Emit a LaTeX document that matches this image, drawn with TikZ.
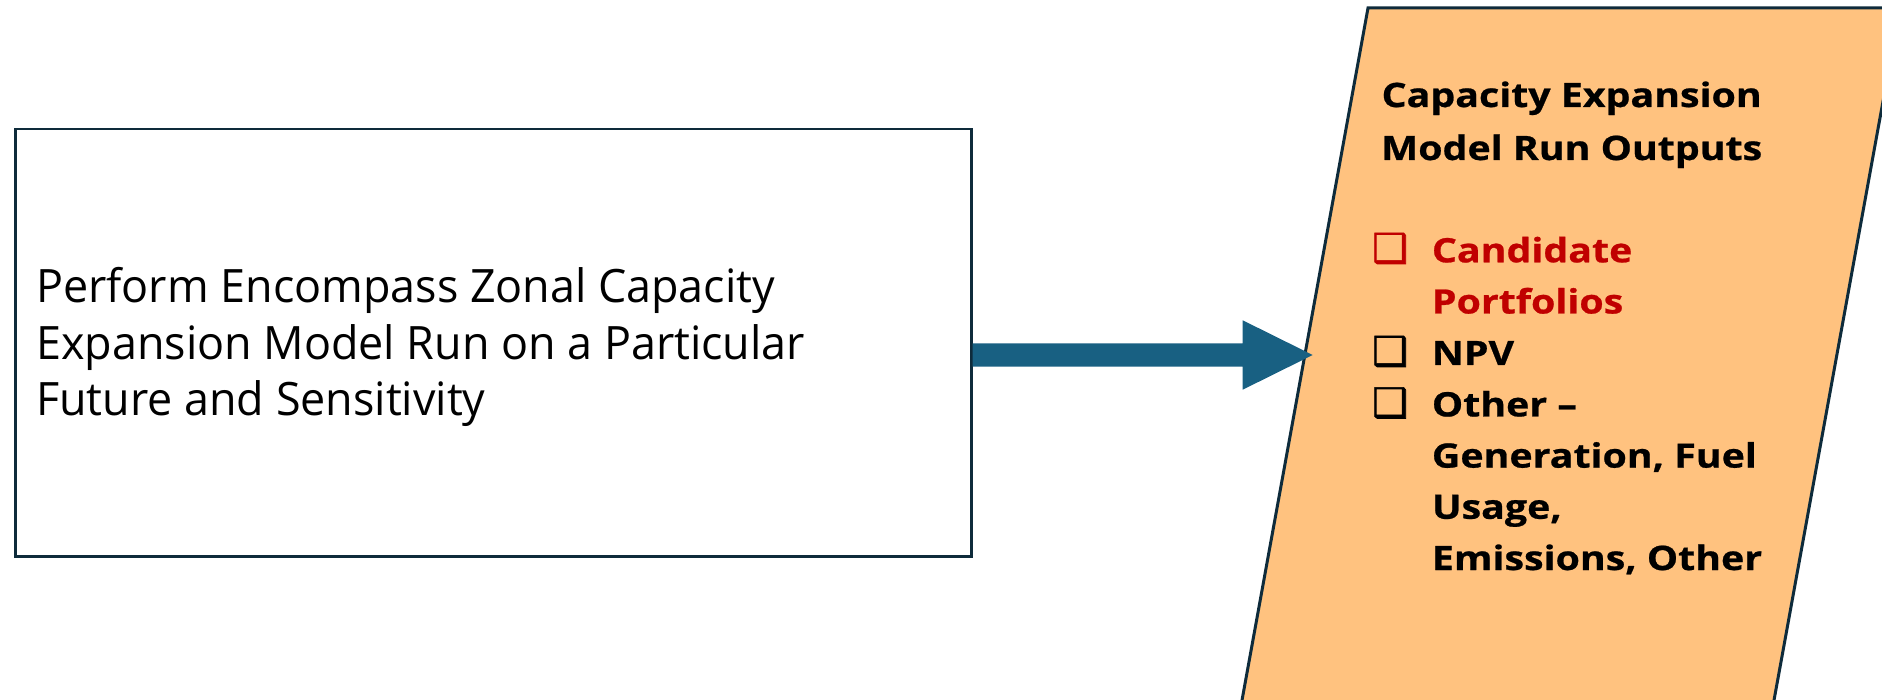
\documentclass[tikz,border=0pt]{standalone}
\usepackage{fontspec}
\setmainfont{Open Sans}
\newfontfamily\procfont[FakeStretch=0.975]{Open Sans}
\newfontfamily\outfont[FakeStretch=1.17,FakeBold=0.7]{Open Sans}
\newfontfamily\symfont[FakeBold=1.5]{DejaVu Sans}
\usetikzlibrary{calc}
\definecolor{boxline}{HTML}{0E2B3B}
\definecolor{outfill}{HTML}{FFC27F}
\definecolor{flowblue}{HTML}{186082}
\definecolor{candred}{HTML}{C00000}
\tikzset{
  procbox/.style={draw=boxline, line width=2.5pt, fill=white, rectangle, inner sep=0pt},
  proctext/.style={font=\procfont\fontsize{46}{56.5}\selectfont, align=left, inner sep=0pt, text=black},
  outbox/.style={draw=boxline, line width=3pt, fill=outfill, line join=miter},
  outtitle/.style={font=\outfont\bfseries\fontsize{33.6}{53}\selectfont, align=center, inner sep=0pt, text=black},
  outitem/.style={font=\outfont\bfseries\fontsize{33.6}{51.2}\selectfont, align=left, inner sep=0pt, text=black},
  chkbox/.style={font=\symfont\fontsize{40}{40}\selectfont, inner sep=0pt, text=black},
  flowfill/.style={fill=flowblue}
}
\begin{document}
\begin{tikzpicture}[x=1pt,y=-1pt]
\useasboundingbox (0,0) rectangle (1882,700);
\clip (0,0) rectangle (1882,700);
% left process box
\node[procbox, anchor=north west, minimum width=956pt, minimum height=427pt] (perform) at (14,128) {};
% base anchor of a multi-line node = baseline of its last line
\node[proctext, anchor=base west] (performtext) at (36,416) {Perform Encompass Zonal Capacity\\Expansion Model Run on a Particular\\Future and Sensitivity};
% output parallelogram
\coordinate (ptl) at (1368,8);
\coordinate (ptr) at (1900,8);
\coordinate (pbr) at (1770.4,720);
\coordinate (pbl) at (1238.4,720);
\filldraw[outbox] (ptl) -- (ptr) -- (pbr) -- (pbl) -- cycle;
% block arrow
\coordinate (outin) at (1312.7,355);
\coordinate (astart) at (perform.east |- outin);
\fill[flowfill] ($(astart)+(0,-11.7)$) -- ($(outin)+(-70,-11.7)$) -- ($(outin)+(-70,-34.7)$) -- (outin)
  -- ($(outin)+(-70,34.7)$) -- ($(outin)+(-70,11.7)$) -- ($(astart)+(0,11.7)$) -- cycle;
% texts
\node[outtitle, anchor=base] (title) at (1571.7,160) {Capacity Expansion\\Model Run Outputs};
\node[chkbox, text=candred, anchor=base west] (chk1) at (1372,262) {❑};
\node[outitem, text=candred, anchor=base west] (cand) at (1431.7,313.5) {Candidate\\Portfolios};
\node[chkbox, anchor=base west] (chk2) at (1372,365) {❑};
\node[outitem, anchor=base west] (npv) at (1431.7,365) {NPV};
\node[chkbox, anchor=base west] (chk3) at (1372,416.5) {❑};
\node[outitem, anchor=base west] (other) at (1431.7,570) {Other –\\Generation, Fuel\\Usage,\\Emissions, Other};
\end{tikzpicture}
\end{document}
